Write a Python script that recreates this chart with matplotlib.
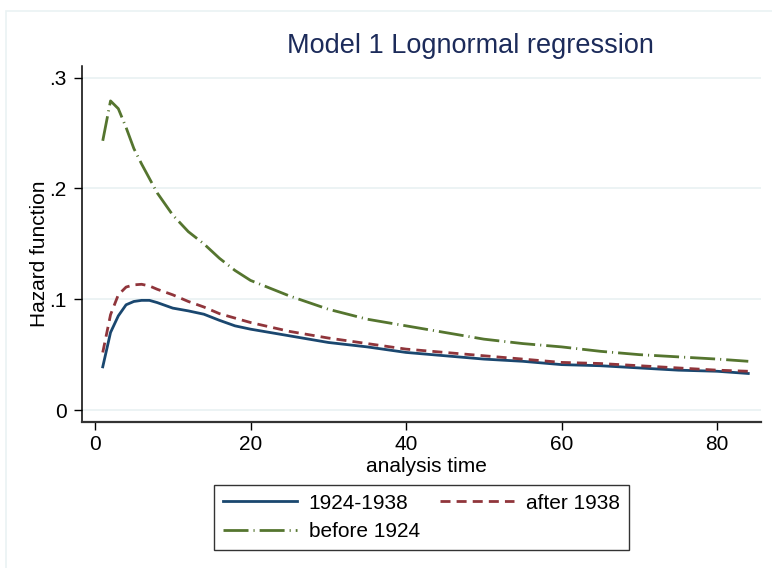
import matplotlib
matplotlib.use("Agg")
import matplotlib.pyplot as plt
from matplotlib.patches import Rectangle

plt.rcParams['font.family'] = ['Liberation Sans', 'DejaVu Sans']

# ---------- DATA ----------
time = [1, 2, 3, 4, 5, 6, 7, 8, 10, 12, 14, 16, 18, 20, 25, 30, 35, 40,
        45, 50, 55, 60, 65, 70, 75, 80, 84]
h_1924_1938 = [0.039, 0.070, 0.085, 0.095, 0.098, 0.099, 0.099, 0.097, 0.092,
               0.0895, 0.0865, 0.081, 0.076, 0.073, 0.067, 0.061, 0.057, 0.052,
               0.049, 0.046, 0.044, 0.041, 0.040, 0.038, 0.036, 0.035, 0.033]
h_after_1938 = [0.052, 0.086, 0.104, 0.111, 0.113, 0.1135, 0.112, 0.109, 0.104,
                0.098, 0.093, 0.087, 0.083, 0.079, 0.071, 0.065, 0.060, 0.055,
                0.052, 0.049, 0.046, 0.043, 0.042, 0.040, 0.038, 0.036, 0.035]
h_before_1924 = [0.243, 0.279, 0.272, 0.255, 0.236, 0.222, 0.209, 0.196, 0.176,
                 0.161, 0.150, 0.137, 0.126, 0.117, 0.103, 0.091, 0.082, 0.076,
                 0.070, 0.064, 0.060, 0.057, 0.053, 0.050, 0.048, 0.046, 0.044]
yticks = [0, 0.1, 0.2, 0.3]
ytick_labels = ["0", ".1", ".2", ".3"]
xticks = [0, 20, 40, 60, 80]

# ---------- PLOT ----------
fig = plt.figure(figsize=(7.72, 5.68), dpi=100)
fig.patches.append(Rectangle((6 / 772, -0.1), 1, 1.1 - 11 / 568, transform=fig.transFigure,
                             fill=False, edgecolor="#eaf2f3", linewidth=1.2))
ax = fig.add_axes([0.1062, 0.257, 0.8792, 0.6268])

for y in yticks:
    ax.axhline(y, color="#eaf2f3", linewidth=1.3, zorder=0)

l1, = ax.plot(time, h_1924_1938, color="#1a476f", linewidth=2.0, label="1924-1938")
l2, = ax.plot(time, h_after_1938, color="#90353b", linewidth=2.0, dashes=(3.6, 2.2),
              label="after 1938")
l3, = ax.plot(time, h_before_1924, color="#55752f", linewidth=2.0,
              dashes=(9, 1.8, 0.4, 1.8), label="before 1924")

ax.set_xlim(-1.67, 85.6)
ax.set_ylim(-0.0108, 0.3105)
ax.set_yticks(yticks)
ax.set_yticklabels(ytick_labels)
ax.set_xticks(xticks)
ax.tick_params(direction="out", length=6, width=1, labelsize=15)
ax.tick_params(axis="x", pad=3.5)
ax.tick_params(axis="y", pad=5)

for s in ["top", "right"]:
    ax.spines[s].set_visible(False)
ax.spines["left"].set_linewidth(1.1)
ax.spines["bottom"].set_linewidth(1.6)
ax.spines["bottom"].set_color("#333333")

xl = ax.set_xlabel("analysis time", fontsize=15)
xl.set_va("center")
ax.xaxis.set_label_coords(0.507, -0.126)
yl = ax.set_ylabel("Hazard function", fontsize=15)
yl.set_va("center")
ax.yaxis.set_label_coords(-0.063, 0.473)

fig.text(470 / 772, 1 - 46 / 568, "Model 1 Lognormal regression", fontsize=19.5,
         color="#1c2b5a", ha="center", va="center")

# column-wise fill: col1 = blue, green ; col2 = red
leg = fig.legend([l1, l3, l2], ["1924-1938", "before 1924", "after 1938"],
                 loc="upper center", bbox_to_anchor=(421.5 / 772, 1 - 485 / 568),
                 ncol=2, frameon=True, fancybox=False, fontsize=15,
                 handlelength=3.55, columnspacing=1.0, handletextpad=0.55,
                 borderpad=0.42, labelspacing=0.45, borderaxespad=0)
leg.get_frame().set_edgecolor("black")
leg.get_frame().set_linewidth(1.0)

fig.savefig("out.png", dpi=100)
